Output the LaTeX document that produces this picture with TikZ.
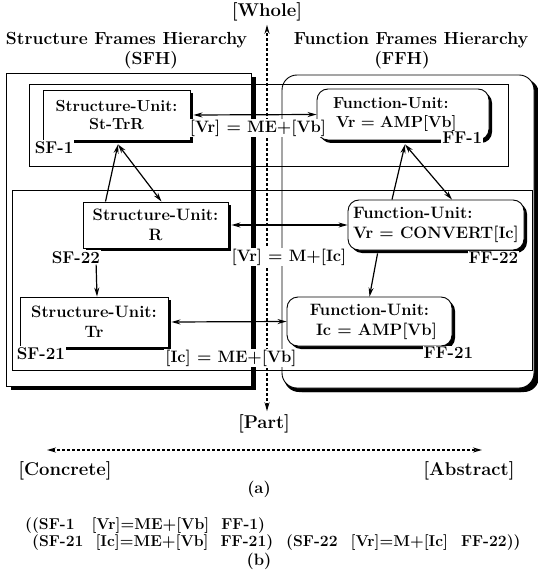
\documentclass[tikz,border=0pt]{standalone}
\usetikzlibrary{arrows.meta,shadows}
\tikzset{
	levelframe/.style={draw, line width=0.9pt},
	hierframe/.style={draw, fill=white, line width=0.9pt, drop shadow={shadow xshift=5pt, shadow yshift=-4pt, fill=black, opacity=1}},
	sunit/.style={draw, fill=white, line width=0.9pt, align=center, inner sep=0pt, drop shadow={shadow xshift=3pt, shadow yshift=-3pt, fill=black, opacity=1}},
	funit/.style={sunit, rounded corners=11pt},
	toplevel/.style={font=\bfseries\fontsize{16}{18.5}\selectfont},
	tag/.style={fill=white, inner sep=1pt, font=\bfseries\fontsize{17}{20}\selectfont},
	relabel/.style={fill=white, inner sep=1pt},
	headlabel/.style={font=\bfseries\fontsize{17.5}{20}\selectfont},
	axislabel/.style={font=\bfseries\fontsize{18.5}{22}\selectfont},
	conn/.style={line width=1.2pt},
	axis/.style={line width=1.6pt, dash pattern=on 3pt off 2pt, <->}
}

\begin{document}
\begin{tikzpicture}[x=1pt,y=-1pt,>={Stealth[length=9pt,width=5pt]},font=\bfseries\fontsize{16.5}{20}\selectfont]

	\useasboundingbox (0,0) rectangle (537,585);

	% hierarchies
	\draw[hierframe] (6,73) rectangle (251,386);
	\draw[hierframe, rounded corners=15pt, drop shadow={shadow xshift=2pt, shadow yshift=-4pt, fill=black, opacity=1}] (282,75) rectangle (534,388);
	\draw[levelframe] (29,84) rectangle (508,166);
	\draw[levelframe] (12,190) rectangle (532,370);

	\node[headlabel] (sfhtitle) at (126.5,40) {Structure Frames Hierarchy};
	\node[headlabel] (sfhabbr) at (151,60) {(SFH)};
	\node[headlabel] (ffhtitle) at (411,40) {Function Frames Hierarchy};
	\node[headlabel] (ffhabbr) at (402,60) {(FFH)};

	% whole / part axis
	\node[axislabel] (whole) at (267,12) {[Whole]};
	\node[axislabel] (part) at (264,424) {[Part]};
	\draw[axis] ([xshift=3pt]part.north) -- (whole);

	% units
	\node[sunit, toplevel, minimum width=147pt, minimum height=50pt] (sfone) at (116.5,115) {Structure-Unit:\\St-TrR};
	\node[sunit, minimum width=145pt, minimum height=46pt] (sftwotwo) at (155.5,225) {Structure-Unit:\\R};
	\node[sunit, minimum width=148pt, minimum height=50pt] (sftwoone) at (94,322) {Structure-Unit:\\Tr};
	\node[funit, toplevel, minimum width=172pt, minimum height=51pt, align=left, text width=140pt] (ffone) at (403,114.5) {Function-Unit:\\\hspace{3pt}Vr = AMP[Vb]};
	\node[funit, minimum width=176pt, minimum height=50pt, align=left] (fftwotwo) at (436,225) {Function-Unit:\\Vr = CONVERT[Ic]};
	\node[funit, minimum width=165pt, minimum height=49pt] (fftwoone) at (369.5,321.5) {Function-Unit:\\\hspace{14pt}Ic = AMP[Vb]};

	\node[tag, anchor=west] (sfonetag) at ([xshift=-9pt,yshift=-7pt]sfone.south west) {SF-1};
	\node[tag, anchor=west] (sftwotwotag) at ([xshift=-32pt,yshift=-9pt]sftwotwo.south west) {SF-22};
	\node[tag, anchor=west] (sftwoonetag) at ([xshift=-4pt,yshift=-6pt]sftwoone.south west) {SF-21};
	\node[tag, anchor=east] (ffonetag) at ([xshift=-6pt,yshift=3pt]ffone.south east) {FF-1};
	\node[tag, anchor=east] (fftwotwotag) at ([xshift=-5pt,yshift=-7pt]fftwotwo.south east) {FF-22};
	\node[tag, anchor=east] (fftwoonetag) at ([xshift=22pt,yshift=-6pt]fftwoone.south east) {FF-21};

	% part-of links
	\draw[conn, ->] ([xshift=-50pt]sftwotwo.north) -- ([xshift=1.5pt,yshift=-4pt]sfone.south);
	\draw[conn, <->] ([xshift=1.5pt,yshift=-4pt]sfone.south) -- ([xshift=6pt]sftwotwo.north);
	\draw[conn, ->] ([xshift=-5pt]sftwotwotag.south east) -- ([xshift=3pt]sftwoone.north);
	\draw[conn, ->] ([xshift=-44pt]fftwotwo.north) -- ([xshift=2pt,yshift=-4pt]ffone.south);
	\draw[conn, <->] ([xshift=2pt,yshift=-4pt]ffone.south) -- ([xshift=16pt]fftwotwo.north);
	\draw[conn, ->] ([xshift=30pt,yshift=-3pt]fftwotwo.south west) -- (fftwoone.north);

	% realization links
	\draw[conn, <->] ([xshift=3pt]sfone.east) -- (ffone.west);
	\draw[conn, <->] ([xshift=3pt]sftwotwo.east) -- (fftwotwo.west);
	\draw[conn, <->] ([xshift=3pt]sftwoone.east) -- (fftwoone.west);

	\node[relabel] (vrone) at (258,128) {[Vr] = ME+[Vb]};
	\node[relabel] (vrtwo) at (289,257) {[Vr] = M+[Ic]};
	\node[relabel] (icone) at (231,358) {[Ic] = ME+[Vb]};

	% concrete / abstract axis
	\coordinate (cleft) at (47,450);
	\coordinate (aright) at (482,450);
	\draw[axis] (cleft) -- (aright);
	\node[axislabel] (concrete) at (65,471) {[Concrete]};
	\node[axislabel] (abstract) at (469,471) {[Abstract]};
	\node (capa) at (259,489) {(a)};

	% list form
	\node[anchor=north west, align=left, inner sep=0pt, font=\bfseries\fontsize{15.7}{13.5}\selectfont] (listing) at (25,518)
		{((SF-1\hspace{17pt}[Vr]=ME+[Vb]\hspace{12pt}FF-1)\\
		\hspace{7pt}(SF-21\hspace{12pt}[Ic]=ME+[Vb]\hspace{12pt}FF-21)\hspace{13pt}(SF-22\hspace{13pt}[Vr]=M+[Ic]\hspace{13pt}FF-22))};
	\node (capb) at (259,561) {(b)};

\end{tikzpicture}
\end{document}
